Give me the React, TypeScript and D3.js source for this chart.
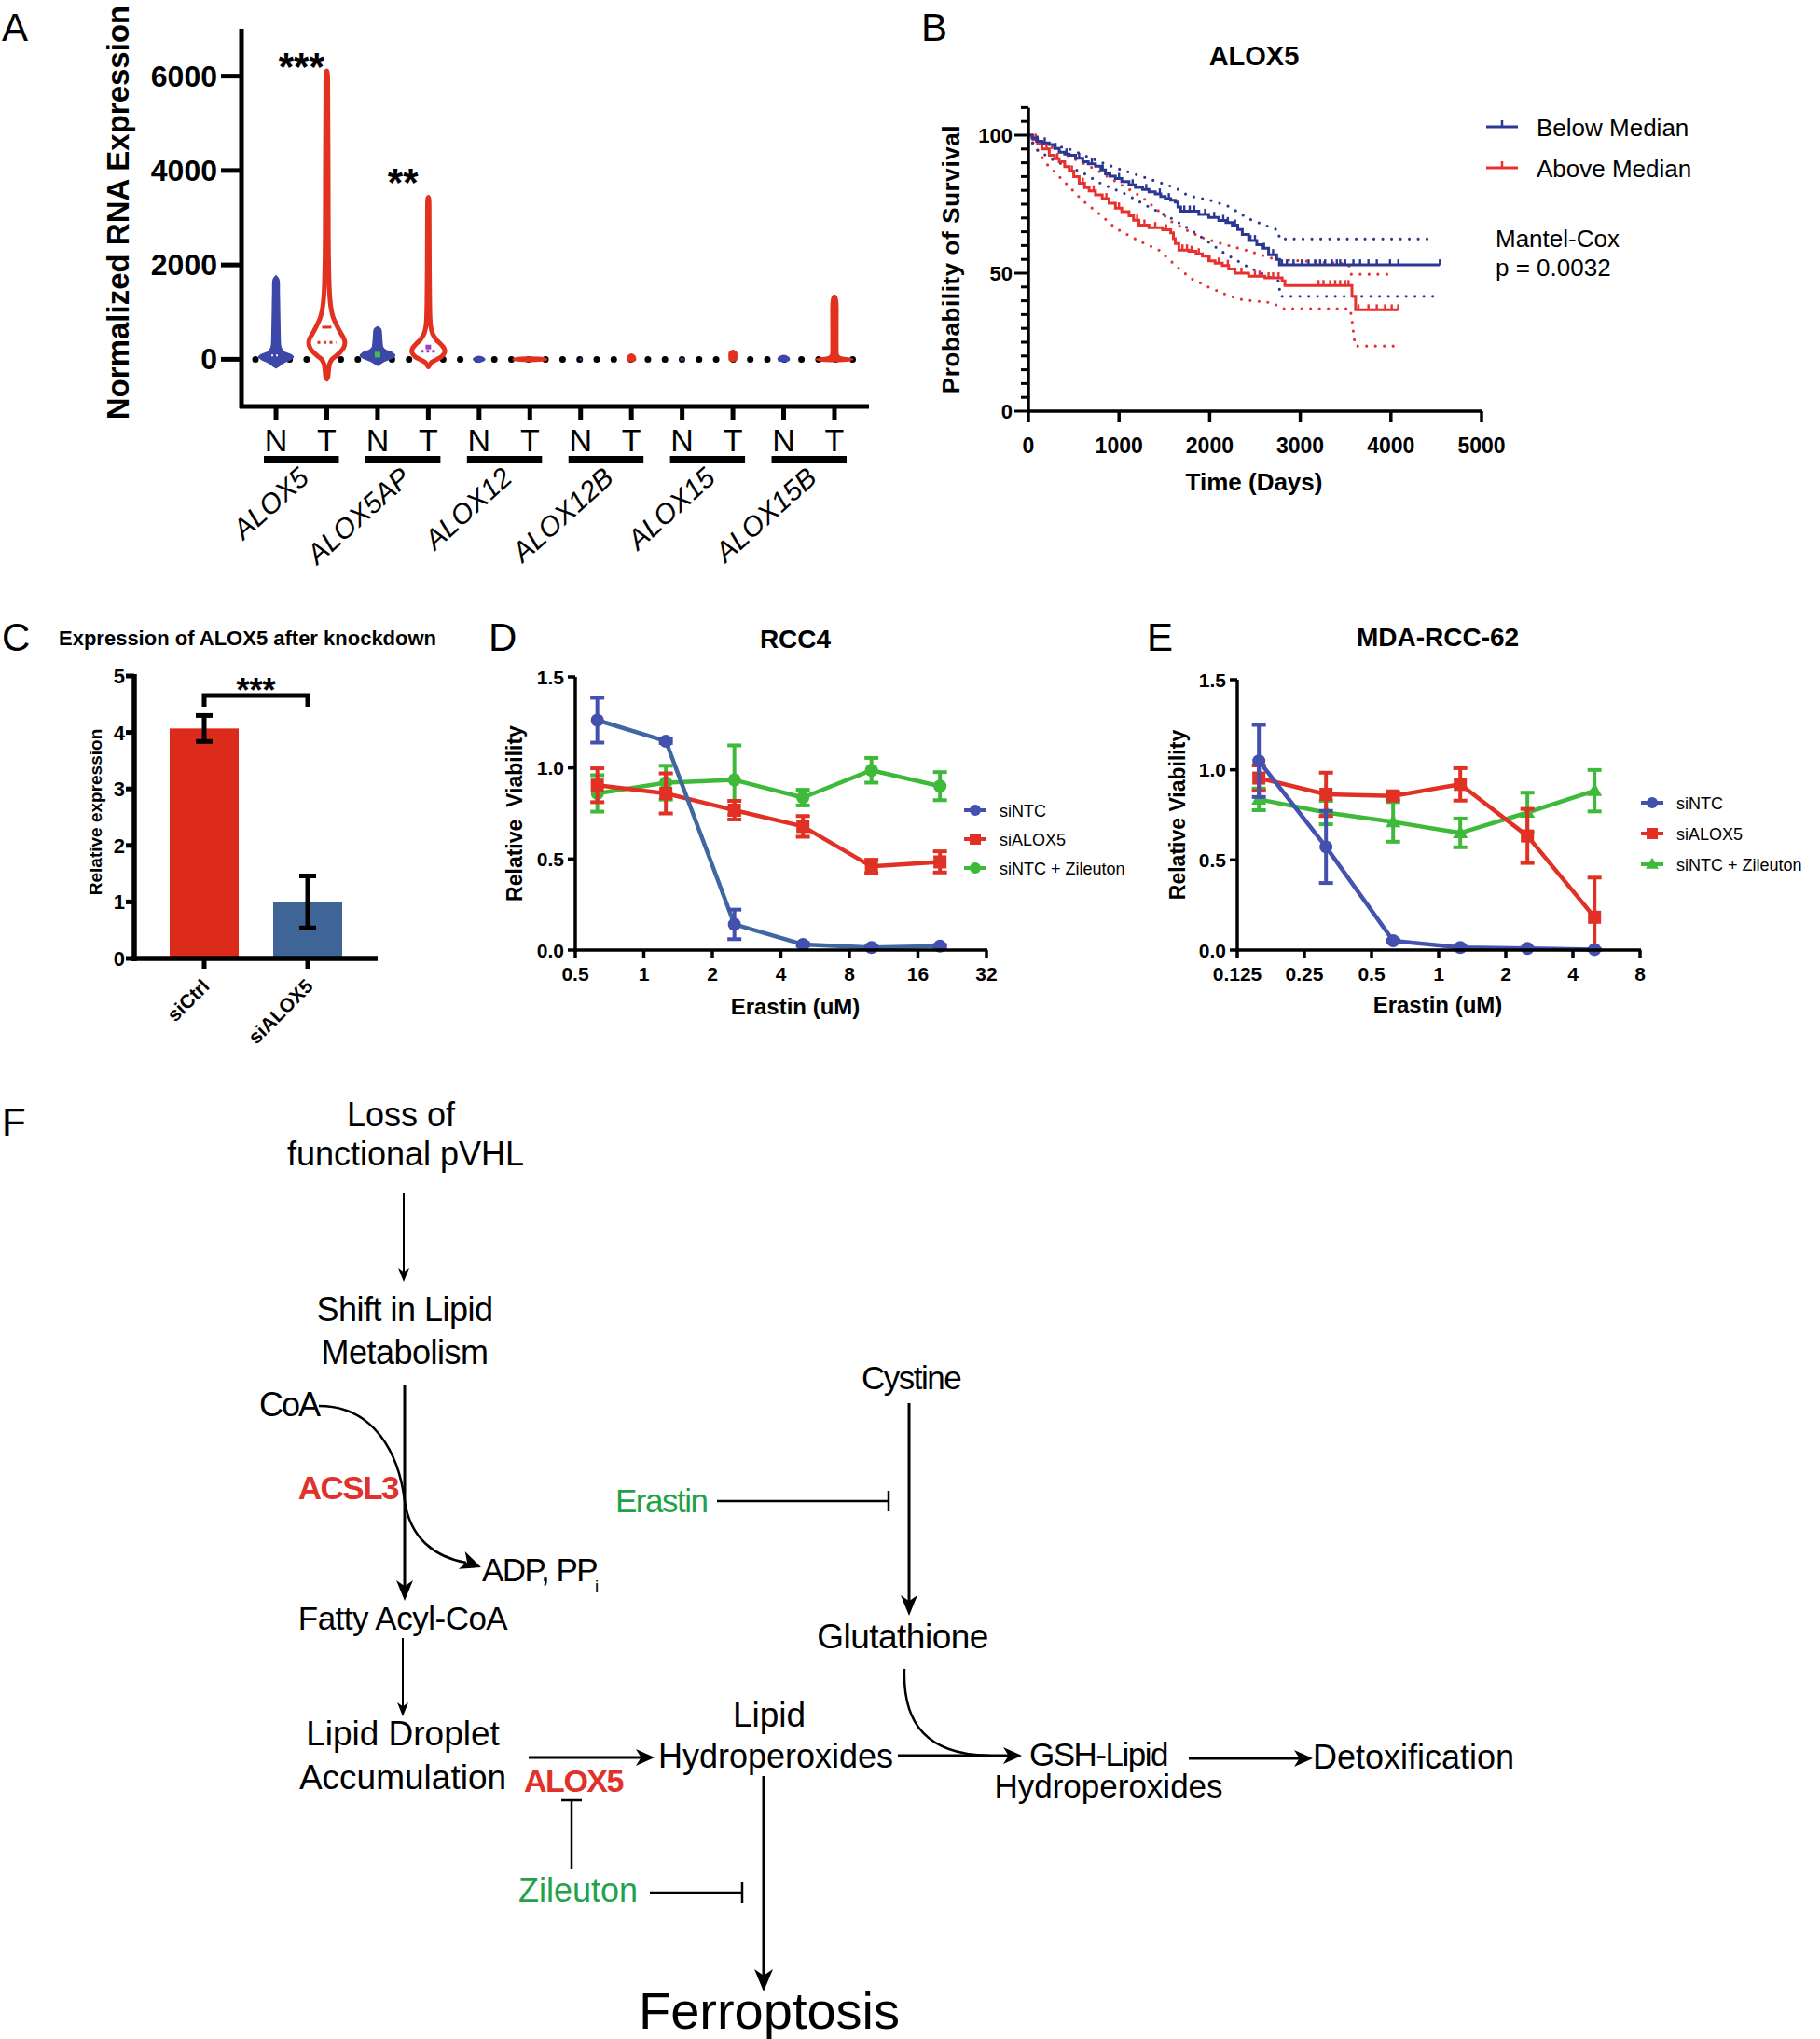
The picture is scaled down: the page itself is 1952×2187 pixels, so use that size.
import React from "react";
import * as d3 from "d3";

const FONT = "'Liberation Sans', Arial, Helvetica, sans-serif";
const RED = "#e2311f";
const BLUE_N = "#3c48a8";
const FIG_RED = "#e0322a";
const FIG_GREEN = "#1fa34a";

// ================= Panel A data =================
const geneNames = ["ALOX5", "ALOX5AP", "ALOX12", "ALOX12B", "ALOX15", "ALOX15B"];
const sampleTypes = ["N", "T"];
const aYTicks = [0, 2000, 4000, 6000];
const aStars = ["***", "**", "", "", "", ""];

// violin profiles: [expression value, relative half-width]
const vAlox5N = [[-180, 0], [-150, 0.15], [-80, 0.4], [0, 0.85], [50, 1.0], [100, 0.85], [150, 0.5], [220, 0.32], [300, 0.26], [600, 0.23], [1000, 0.21], [1400, 0.19], [1700, 0.15], [1770, 0]];
const vAlox5T = [[-420, 0], [-380, 0.06], [-250, 0.1], [-100, 0.16], [0, 0.3], [60, 0.5], [150, 0.78], [250, 0.98], [356, 1.05], [450, 0.98], [550, 0.82], [700, 0.6], [900, 0.36], [1100, 0.24], [1400, 0.16], [2000, 0.11], [2600, 0.09], [4000, 0.08], [5500, 0.06], [6050, 0.04], [6110, 0]];
const vAlox5apN = [[-130, 0], [-100, 0.12], [-40, 0.4], [20, 0.8], [80, 1.0], [140, 0.85], [200, 0.45], [260, 0.3], [350, 0.26], [500, 0.23], [640, 0.18], [690, 0]];
const vAlox5apT = [[-160, 0], [-130, 0.06], [-60, 0.2], [0, 0.5], [60, 0.78], [150, 0.95], [230, 0.92], [320, 0.72], [420, 0.45], [550, 0.24], [700, 0.14], [900, 0.1], [1200, 0.08], [2000, 0.06], [3000, 0.05], [3400, 0.03], [3430, 0]];
const vAlox12N = [[-60, 0], [-30, 0.25], [0, 0.33], [30, 0.25], [60, 0]];
const vAlox12T = [[-45, 0], [-30, 0.8], [0, 0.97], [30, 0.8], [45, 0]];
const vAlox12bN = [[-12, 0], [0, 0.04], [12, 0]];
const vAlox12bT = [[-45, 0], [-20, 0.22], [30, 0.24], [80, 0.16], [110, 0]];
const vAlox15N = [[-20, 0], [0, 0.12], [20, 0]];
const vAlox15T = [[-40, 0], [-20, 0.2], [50, 0.22], [150, 0.2], [190, 0]];
const vAlox15bN = [[-45, 0], [-20, 0.3], [20, 0.32], [60, 0.2], [80, 0]];
const vAlox15bT = [[-45, 0], [-30, 0.8], [0, 1.05], [30, 0.7], [60, 0.32], [100, 0.22], [300, 0.2], [800, 0.2], [1200, 0.19], [1330, 0.12], [1360, 0]];
const violinProfiles = [vAlox5N, vAlox5T, vAlox5apN, vAlox5apT, vAlox12N, vAlox12T, vAlox12bN, vAlox12bT, vAlox15N, vAlox15T, vAlox15bN, vAlox15bT];
const violinHollow = [false, true, false, true, false, false, false, false, false, false, false, false];
const violinMedians = [80, 360, 100, 170, null, null, null, null, null, null, null, null];

// ================= Panel B data =================
const belowMedianSteps = [[0, 100], [40, 99], [90, 97.8], [150, 97.2], [230, 96.6], [290, 95.2], [340, 93.8], [400, 93.2], [450, 92.7], [520, 91.6], [600, 90.4], [660, 89.6], [740, 88.8], [800, 87.4], [850, 86], [900, 85.1], [960, 84.3], [1030, 83.2], [1110, 82], [1180, 81.1], [1260, 80.3], [1330, 79.5], [1400, 78.7], [1460, 77.8], [1510, 77], [1570, 76.4], [1620, 75.8], [1650, 74], [1680, 72.5], [1880, 71.3], [1990, 70.2], [2100, 69.1], [2180, 68.3], [2250, 67.4], [2310, 65.8], [2360, 64], [2430, 61.8], [2520, 60.3], [2580, 59], [2650, 56.7], [2740, 55], [2770, 53], [4540, 53]];
const aboveMedianSteps = [[0, 100], [50, 98.5], [100, 97], [150, 95], [230, 92.7], [290, 91.5], [340, 90.4], [400, 88.6], [450, 87], [500, 85], [560, 82.6], [620, 81], [670, 79.8], [740, 78.4], [815, 77], [890, 75.3], [960, 73.6], [1030, 72.3], [1110, 70.8], [1160, 69.2], [1220, 67.4], [1330, 66.5], [1480, 65.7], [1570, 64.6], [1600, 62.5], [1620, 60.7], [1660, 58.4], [1770, 57.9], [1850, 57], [1920, 56.2], [1990, 54.5], [2060, 53.6], [2140, 52.8], [2210, 51.5], [2280, 50], [2430, 48.9], [2610, 48.3], [2800, 47.2], [2830, 45.5], [3560, 45.5], [3570, 41.6], [3610, 36.7], [4080, 36.7]];
const belowCensorDays = [100, 180, 300, 420, 560, 700, 820, 1000, 1150, 1300, 1450, 1550, 1720, 1780, 1830, 1950, 2050, 2150, 2200, 2280, 2450, 2500, 2600, 2700, 2797, 2852, 2925, 3017, 3091, 3164, 3219, 3274, 3348, 3403, 3440, 3495, 3586, 3660, 3752, 3844, 3990, 4082, 4540];
const aboveCensorDays = [80, 200, 320, 480, 600, 720, 860, 1000, 1200, 1280, 1400, 1520, 1700, 1750, 1800, 1880, 2000, 2100, 2200, 2350, 2500, 2550, 2650, 2700, 2760, 3201, 3256, 3330, 3385, 3440, 3495, 3532, 3642, 3752, 3844, 3935, 4009, 4080];
const belowUpperCI = [[0, 100], [200, 97], [450, 95], [700, 91.5], [960, 88.2], [1300, 84.5], [1623, 80.9], [1769, 78], [2000, 76.5], [2210, 74.2], [2430, 69.7], [2600, 67.5], [2760, 65.5], [2770, 62.4], [4470, 62.4]];
const belowLowerCI = [[0, 100], [80, 95], [300, 90.5], [595, 86.5], [800, 82.5], [1072, 78.7], [1300, 74.5], [1586, 69.7], [1750, 66.5], [1916, 62.9], [2150, 57.5], [2394, 52.8], [2600, 49.5], [2760, 47.2], [2780, 41.6], [4500, 41.6]];
const aboveUpperCI = [[0, 100], [228, 96], [500, 91.5], [741, 87.6], [1000, 82.5], [1256, 77.5], [1586, 68.5], [1750, 65.5], [1916, 62.9], [2150, 60.5], [2394, 58.4], [2724, 55], [3000, 54.5], [3532, 53.4], [3560, 49.6], [4045, 49.6]];
const aboveLowerCI = [[0, 100], [191, 89.9], [400, 83], [595, 76.4], [800, 71], [962, 66.3], [1200, 62], [1439, 58.4], [1660, 51.7], [1800, 48], [1990, 44.9], [2200, 42], [2357, 40.4], [2687, 39.3], [2816, 37.1], [3550, 37.1], [3570, 33], [3605, 23.6], [4045, 23.6]];
const bXTicks = [0, 1000, 2000, 3000, 4000, 5000];
const bYTicks = [0, 50, 100];
const bLegend = ["Below Median", "Above Median"];

// ================= Panel C data =================
const cCategories = ["siCtrl", "siALOX5"];
const cValues = [4.07, 1.0];
const cErrors = [0.23, 0.46];
const cYTicks = [0, 1, 2, 3, 4, 5];

// ================= Panel D data =================
const dDoses = [0.625, 1.25, 2.5, 5, 10, 20];
const dSiNTC = [1.262, 1.147, 0.141, 0.031, 0.014, 0.022];
const dSiNTCErr = [0.123, 0.01, 0.081, 0.008, 0.005, 0.006];
const dSiALOX5 = [0.905, 0.86, 0.768, 0.679, 0.459, 0.484];
const dSiALOX5Err = [0.093, 0.11, 0.051, 0.057, 0.037, 0.058];
const dZileuton = [0.86, 0.919, 0.934, 0.837, 0.987, 0.9];
const dZileutonErr = [0.1, 0.093, 0.19, 0.043, 0.068, 0.077];
const dXTicks = [0.5, 1, 2, 4, 8, 16, 32];

// ================= Panel E data =================
const eDoses = [0.15625, 0.3125, 0.625, 1.25, 2.5, 5];
const eSiNTC = [1.049, 0.572, 0.052, 0.014, 0.009, 0.003];
const eSiNTCErr = [0.2, 0.2, 0.005, 0.005, 0.003, 0.003];
const eSiALOX5 = [0.954, 0.864, 0.855, 0.919, 0.633, 0.182];
const eSiALOX5Err = [0.07, 0.12, 0.02, 0.09, 0.15, 0.22];
const eZileuton = [0.836, 0.763, 0.711, 0.65, 0.763, 0.884];
const eZileutonErr = [0.06, 0.065, 0.11, 0.08, 0.11, 0.115];
const eXTicks = [0.125, 0.25, 0.5, 1, 2, 4, 8];
const viabilityYTicks = [0, 0.5, 1.0, 1.5];
const doseLegend = ["siNTC", "siALOX5", "siNTC + Zileuton"];

// ================= Panel A =================
function PanelA() {
  const keys = geneNames.flatMap((g) => sampleTypes.map((t) => g + "_" + t));
  const x = d3.scalePoint().domain(keys).range([259, 932]).padding(0.68);
  const y = d3.scaleLinear().domain([-1000, 7000]).range([436, 31]);
  const w = d3.scaleLinear().domain([0, 1]).range([0, 18.5]);
  const y0 = y(0);
  return (
    <g>
      <text x={2} y={44} fontSize={42}>A</text>
      <line x1={274} x2={921} y1={y0} y2={y0} stroke="#000" strokeWidth={7} strokeDasharray="0 18.3" strokeLinecap="round" />
      {keys.map((k, i) => {
        const cx = x(k);
        const prof = violinProfiles[i];
        const col = i % 2 === 0 ? (i === 8 ? "#5a2a6a" : BLUE_N) : RED;
        const area = d3.area().y((d) => y(d[0])).x0((d) => cx - w(d[1])).x1((d) => cx + w(d[1])).curve(d3.curveCatmullRom);
        const hollow = violinHollow[i];
        const med = violinMedians[i];
        return (
          <g key={k}>
            <path d={area(prof)} fill={hollow ? "#fff" : col} stroke={col} strokeWidth={hollow ? 5 : 1.5} strokeLinejoin="round" />
            {med != null && i === 1 && (
              <g>
                <line x1={cx - 10} x2={cx + 10} y1={y(med)} y2={y(med)} stroke={RED} strokeWidth={3} strokeDasharray="3 3.5" />
                <line x1={cx - 5} x2={cx + 5} y1={y(680)} y2={y(680)} stroke={RED} strokeWidth={3} />
              </g>
            )}
            {med != null && i === 0 && (
              <line x1={cx - 5} x2={cx + 5} y1={y(med)} y2={y(med)} stroke="#fff" strokeWidth={2} strokeDasharray="2 3" />
            )}
            {med != null && i === 2 && <rect x={cx - 3} y={y(med) - 3} width={6} height={6} fill="#3fbf4a" />}
            {med != null && i === 3 && (
              <g>
                <line x1={cx - 8} x2={cx + 8} y1={y(med)} y2={y(med)} stroke="#a040c0" strokeWidth={3} strokeDasharray="3 3" />
                <rect x={cx - 3} y={y(250) - 3} width={6} height={5} fill="#a040c0" />
              </g>
            )}
          </g>
        );
      })}
      <line x1={259} x2={259} y1={31} y2={438} stroke="#000" strokeWidth={5} />
      <line x1={257} x2={932} y1={436} y2={436} stroke="#000" strokeWidth={5} />
      {aYTicks.map((t) => (
        <g key={t}>
          <line x1={237} x2={259} y1={y(t)} y2={y(t)} stroke="#000" strokeWidth={5} />
          <text x={233} y={y(t) + 11} fontSize={32} fontWeight="bold" textAnchor="end">{t}</text>
        </g>
      ))}
      {keys.map((k, i) => (
        <g key={k}>
          <line x1={x(k)} x2={x(k)} y1={436} y2={451} stroke="#000" strokeWidth={5} />
          <text x={x(k)} y={484} fontSize={34} textAnchor="middle">{sampleTypes[i % 2]}</text>
        </g>
      ))}
      {geneNames.map((g, gi) => {
        const xn = x(g + "_N");
        const xt = x(g + "_T");
        const c = (xn + xt) / 2;
        return (
          <g key={g}>
            <rect x={xn - 13} y={489} width={xt - xn + 26} height={8} fill="#000" />
            <text transform={`translate(${c + 10},515) rotate(-42)`} fontSize={30} fontStyle="italic" textAnchor="end">{g}</text>
            {aStars[gi] && (
              <text x={c} y={gi === 0 ? 86 : 210} fontSize={42} fontWeight="bold" textAnchor="middle">{aStars[gi]}</text>
            )}
          </g>
        );
      })}
      <text transform="translate(138,228) rotate(-90)" fontSize={33} fontWeight="bold" textAnchor="middle">Normalized RNA Expression</text>
    </g>
  );
}

// ================= Panel B =================
function PanelB() {
  const x = d3.scaleLinear().domain([0, 5000]).range([1103, 1589]);
  const y = d3.scaleLinear().domain([0, 100]).range([441, 145]);
  const step = d3.line().x((d) => x(d[0])).y((d) => y(d[1])).curve(d3.curveStepAfter);
  const lin = d3.line().x((d) => x(d[0])).y((d) => y(d[1]));
  const bis = d3.bisector((d) => d[0]).right;
  const survAt = (steps, t) => steps[Math.max(0, bis(steps, t) - 1)][1];
  const BLUE = "#2a3893";
  const REDB = "#e8312f";
  const minor = d3.range(0, 111, 5);
  return (
    <g>
      <text x={988} y={44} fontSize={42}>B</text>
      <text x={1345} y={70} fontSize={29} fontWeight="bold" textAnchor="middle">ALOX5</text>
      {[aboveUpperCI, aboveLowerCI].map((c, i) => (
        <path key={"r" + i} d={lin(c)} fill="none" stroke={REDB} strokeWidth={3.2} strokeDasharray="0 9.5" strokeLinecap="round" />
      ))}
      {[belowUpperCI, belowLowerCI].map((c, i) => (
        <path key={"b" + i} d={lin(c)} fill="none" stroke={BLUE} strokeWidth={3.2} strokeDasharray="0 9.5" strokeLinecap="round" />
      ))}
      <path d={step(aboveMedianSteps)} fill="none" stroke={REDB} strokeWidth={3} />
      {aboveCensorDays.map((t, i) => {
        const s = survAt(aboveMedianSteps, t);
        return <line key={i} x1={x(t)} x2={x(t)} y1={y(s)} y2={y(s) - 6} stroke={REDB} strokeWidth={2.4} />;
      })}
      <path d={step(belowMedianSteps)} fill="none" stroke={BLUE} strokeWidth={3} />
      {belowCensorDays.map((t, i) => {
        const s = survAt(belowMedianSteps, t);
        return <line key={i} x1={x(t)} x2={x(t)} y1={y(s)} y2={y(s) - 6} stroke={BLUE} strokeWidth={2.4} />;
      })}
      <line x1={1103} x2={1103} y1={y(110)} y2={443} stroke="#000" strokeWidth={3.5} />
      <line x1={1101} x2={1589} y1={441} y2={441} stroke="#000" strokeWidth={3.5} />
      {minor.map((t) => (
        <line key={t} x1={bYTicks.includes(t) ? 1088 : 1095} x2={1103} y1={y(t)} y2={y(t)} stroke="#000" strokeWidth={3} />
      ))}
      {bYTicks.map((t) => (
        <text key={t} x={1086} y={y(t) + 8} fontSize={22} fontWeight="bold" textAnchor="end">{t}</text>
      ))}
      {bXTicks.map((t) => (
        <g key={t}>
          <line x1={x(t)} x2={x(t)} y1={441} y2={453} stroke="#000" strokeWidth={3.5} />
          <text x={x(t)} y={486} fontSize={23} fontWeight="bold" textAnchor="middle">{t}</text>
        </g>
      ))}
      <text x={1345} y={526} fontSize={26} fontWeight="bold" textAnchor="middle">Time (Days)</text>
      <text transform="translate(1029,278) rotate(-90)" fontSize={26} fontWeight="bold" textAnchor="middle" letterSpacing={0.6}>Probability of Survival</text>
      {bLegend.map((l, i) => {
        const col = i === 0 ? BLUE : REDB;
        const ly = 136 + i * 44;
        return (
          <g key={l}>
            <line x1={1594} x2={1628} y1={ly} y2={ly} stroke={col} strokeWidth={3} />
            <line x1={1611} x2={1611} y1={ly} y2={ly - 7} stroke={col} strokeWidth={2.5} />
            <text x={1648} y={ly + 10} fontSize={26}>{l}</text>
          </g>
        );
      })}
      <text x={1604} y={265} fontSize={26}>Mantel-Cox</text>
      <text x={1604} y={296} fontSize={26}>p = 0.0032</text>
    </g>
  );
}

// ================= Panel C =================
function PanelC() {
  const x = d3.scaleBand().domain(cCategories).range([144, 405]).paddingInner(0.333).paddingOuter(0.342);
  const y = d3.scaleLinear().domain([0, 5]).range([1028, 725]);
  const colors = ["#dc2b1b", "#3e6596"];
  const cx = cCategories.map((c) => x(c) + x.bandwidth() / 2);
  return (
    <g>
      <text x={2} y={698} fontSize={42}>C</text>
      <text x={63} y={692} fontSize={22} fontWeight="bold">Expression of ALOX5 after knockdown</text>
      {cCategories.map((c, i) => (
        <g key={c}>
          <rect x={x(c)} y={y(cValues[i])} width={x.bandwidth()} height={y(0) - y(cValues[i])} fill={colors[i]} />
          <line x1={cx[i]} x2={cx[i]} y1={y(cValues[i] + cErrors[i])} y2={y(cValues[i] - cErrors[i])} stroke="#000" strokeWidth={5} />
          <line x1={cx[i] - 9} x2={cx[i] + 9} y1={y(cValues[i] + cErrors[i])} y2={y(cValues[i] + cErrors[i])} stroke="#000" strokeWidth={5} />
          <line x1={cx[i] - 9} x2={cx[i] + 9} y1={y(cValues[i] - cErrors[i])} y2={y(cValues[i] - cErrors[i])} stroke="#000" strokeWidth={5} />
          <line x1={cx[i]} x2={cx[i]} y1={1028} y2={1039} stroke="#000" strokeWidth={5} />
          <text transform={`translate(${cx[i] + 7},${1059}) rotate(-45)`} fontSize={21} fontWeight="bold" textAnchor="end">{c}</text>
        </g>
      ))}
      <path d={`M${cx[0]},758 V746 H${cx[1]} V758`} fill="none" stroke="#000" strokeWidth={5} />
      <text x={(cx[0] + cx[1]) / 2} y={753} fontSize={36} fontWeight="bold" textAnchor="middle">***</text>
      <line x1={144} x2={144} y1={723} y2={1031} stroke="#000" strokeWidth={5.5} />
      <line x1={141} x2={405} y1={1028} y2={1028} stroke="#000" strokeWidth={5.5} />
      {cYTicks.map((t) => (
        <g key={t}>
          <line x1={135} x2={144} y1={y(t)} y2={y(t)} stroke="#000" strokeWidth={5} />
          <text x={134} y={y(t) + 8} fontSize={22} fontWeight="bold" textAnchor="end">{t}</text>
        </g>
      ))}
      <text transform="translate(109,871) rotate(-90)" fontSize={19} fontWeight="bold" textAnchor="middle">Relative expression</text>
    </g>
  );
}

// ================= Panels D & E =================
function Marker({ shape, x, y, s, color }) {
  if (shape === "square") return <rect x={x - s} y={y - s} width={2 * s} height={2 * s} fill={color} />;
  if (shape === "triangle")
    return <path d={`M${x},${y - s * 1.2} L${x + s * 1.15},${y + s * 0.8} L${x - s * 1.15},${y + s * 0.8}Z`} fill={color} />;
  return <circle cx={x} cy={y} r={s} fill={color} />;
}

function DosePanel(p) {
  const x = d3.scaleLog().base(2).domain(p.xDomain).range(p.xRange);
  const y = d3.scaleLinear().domain([0, 1.5]).range(p.yRange);
  const line = d3.line().x((d) => x(d[0])).y((d) => y(d[1]));
  const [x0, x1] = p.xRange;
  const yb = p.yRange[0];
  return (
    <g>
      <text x={p.letterX} y={698} fontSize={42}>{p.letter}</text>
      <text x={p.titleX} y={p.titleY} fontSize={28} fontWeight="bold" textAnchor="middle">{p.title}</text>
      {p.series.map((s, si) => {
        const pts = p.doses.map((d, i) => [d, s.values[i]]);
        return (
          <g key={si}>
            <path d={line(pts)} fill="none" stroke={s.lineColor} strokeWidth={4.5} strokeLinejoin="round" />
            {pts.map((pt, i) => {
              const cxp = x(pt[0]);
              const top = y(pt[1] + s.errors[i]);
              const bot = y(Math.max(0, pt[1] - s.errors[i]));
              return (
                <g key={i}>
                  <line x1={cxp} x2={cxp} y1={top} y2={bot} stroke={s.color} strokeWidth={4} />
                  <line x1={cxp - 7.5} x2={cxp + 7.5} y1={top} y2={top} stroke={s.color} strokeWidth={4} />
                  <line x1={cxp - 7.5} x2={cxp + 7.5} y1={bot} y2={bot} stroke={s.color} strokeWidth={4} />
                  <Marker shape={s.shape} x={cxp} y={y(pt[1])} s={7} color={s.color} />
                </g>
              );
            })}
          </g>
        );
      })}
      <line x1={x0} x2={x0} y1={p.yRange[1]} y2={yb + 2} stroke="#000" strokeWidth={3.5} />
      <line x1={x0 - 2} x2={x1 + 1} y1={yb} y2={yb} stroke="#000" strokeWidth={3.5} />
      {viabilityYTicks.map((t) => (
        <g key={t}>
          <line x1={x0 - 8} x2={x0} y1={y(t)} y2={y(t)} stroke="#000" strokeWidth={3.5} />
          <text x={x0 - 12} y={y(t) + 7.5} fontSize={21} fontWeight="bold" textAnchor="end">{d3.format(".1f")(t)}</text>
        </g>
      ))}
      {p.xTicks.map((t) => (
        <g key={t}>
          <line x1={x(t)} x2={x(t)} y1={yb} y2={yb + 8} stroke="#000" strokeWidth={3.5} />
          <text x={x(t)} y={yb + 33} fontSize={21} fontWeight="bold" textAnchor="middle">{String(t)}</text>
        </g>
      ))}
      <text x={p.titleX} y={p.xLabelY} fontSize={24} fontWeight="bold" textAnchor="middle">Erastin (uM)</text>
      <text transform={`translate(${p.yLabelX},${(p.yRange[0] + p.yRange[1]) / 2}) rotate(-90)`} fontSize={23} fontWeight="bold" textAnchor="middle" style={{ whiteSpace: "pre" }}>{p.yLabel}</text>
      {p.series.map((s, si) => {
        const ly = p.legendY[s.legendIndex];
        return (
          <g key={"l" + si}>
            <line x1={p.legendX} x2={p.legendX + 24} y1={ly} y2={ly} stroke={s.color} strokeWidth={4} />
            <Marker shape={s.shape} x={p.legendX + 12} y={ly} s={6} color={s.color} />
            <text x={p.legendX + 38} y={ly + 6.5} fontSize={18}>{doseLegend[s.legendIndex]}</text>
          </g>
        );
      })}
    </g>
  );
}

// ================= Panel F =================
function Arrow({ x1, y1, x2, y2, sw = 3, L = 20, W = 8 }) {
  const a = Math.atan2(y2 - y1, x2 - x1);
  const bx = x2 - Math.cos(a) * L * 0.7;
  const by = y2 - Math.sin(a) * L * 0.7;
  const deg = (a * 180) / Math.PI;
  return (
    <g>
      <line x1={x1} y1={y1} x2={bx} y2={by} stroke="#000" strokeWidth={sw} />
      <path d={`M0,0 L${-L},${-W} L${-L * 0.72},0 L${-L},${W} Z`} fill="#000" transform={`translate(${x2},${y2}) rotate(${deg})`} />
    </g>
  );
}

function Inhibit({ x1, y1, x2, y2, sw = 2.5, bar = 11 }) {
  const vertical = x1 === x2;
  return (
    <g stroke="#000" strokeWidth={sw}>
      <line x1={x1} y1={y1} x2={x2} y2={y2} />
      {vertical ? <line x1={x2 - bar} x2={x2 + bar} y1={y2} y2={y2} /> : <line x1={x2} x2={x2} y1={y2 - bar} y2={y2 + bar} />}
    </g>
  );
}

function PanelF() {
  const T = (x, y, s, opts = {}) => (
    <text x={x} y={y} fontSize={opts.fs || 36} textAnchor={opts.anchor || "middle"} fill={opts.fill || "#000"} fontWeight={opts.bold ? "bold" : "normal"} letterSpacing={opts.ls || 0}>{s}</text>
  );
  return (
    <g>
      <text x={2} y={1218} fontSize={42}>F</text>
      {T(430, 1208, "Loss of")}
      {T(435, 1250, "functional pVHL")}
      <Arrow x1={433} y1={1280} x2={433} y2={1375} sw={2} L={15} W={6} />
      {T(434, 1417, "Shift in Lipid", { ls: -0.5 })}
      {T(434, 1463, "Metabolism", { ls: -0.5 })}
      <Arrow x1={434} y1={1485} x2={434} y2={1717} sw={3} L={22} W={9} />
      {T(342, 1519, "CoA", { anchor: "end", ls: -2 })}
      <path d="M342,1508 C402,1508 428,1560 434,1610 C440,1650 466,1670 500,1676" fill="none" stroke="#000" strokeWidth={2.5} />
      <path d="M0,0 L-22,-10 L-16,0 L-22,10 Z" fill="#000" transform="translate(516,1681) rotate(20)" />
      {T(427, 1608, "ACSL3", { anchor: "end", bold: true, fill: FIG_RED, fs: 35, ls: -1.5 })}
      <text x={517} y={1696} fontSize={35} letterSpacing={-1.5}>ADP, PP</text>
      <text x={638} y={1708} fontSize={19}>i</text>
      {T(432, 1748, "Fatty Acyl-CoA", { fs: 35, ls: -0.5 })}
      <Arrow x1={432} y1={1757} x2={432} y2={1841} sw={2} L={15} W={6} />
      {T(432, 1872, "Lipid Droplet", { fs: 37 })}
      {T(432, 1919, "Accumulation", { fs: 37 })}
      <Arrow x1={567} y1={1885} x2={702} y2={1885} sw={3} L={20} W={9} />
      {T(615, 1922, "ALOX5", { bold: true, fill: FIG_RED, fs: 34, ls: -1.5 })}
      <Inhibit x1={613} y1={2005} x2={613} y2={1931} />
      {T(620, 2040, "Zileuton", { fill: FIG_GREEN })}
      <Inhibit x1={697} y1={2030} x2={796} y2={2030} />
      {T(825, 1852, "Lipid", { fs: 37 })}
      {T(832, 1896, "Hydroperoxides")}
      <Arrow x1={819} y1={1905} x2={819} y2={2136} sw={3} L={24} W={10} />
      {T(825, 2176, "Ferroptosis", { fs: 56 })}
      {T(977, 1490, "Cystine", { fs: 35, ls: -1.5 })}
      <Arrow x1={975} y1={1505} x2={975} y2={1733} sw={3} L={22} W={9} />
      <text x={660} y={1622} fontSize={35} fill={FIG_GREEN} letterSpacing={-1.5}>Erastin</text>
      <Inhibit x1={769} y1={1610} x2={953} y2={1610} />
      {T(968, 1768, "Glutathione", { fs: 37, ls: -0.5 })}
      <path d="M970,1790 C968,1850 995,1882 1062,1883" fill="none" stroke="#000" strokeWidth={2.5} />
      <Arrow x1={963} y1={1883} x2={1096} y2={1883} sw={3} L={20} W={9} />
      {T(1178, 1894, "GSH-Lipid", { fs: 35, ls: -1.5 })}
      {T(1189, 1928, "Hydroperoxides", { fs: 35 })}
      <Arrow x1={1275} y1={1886} x2={1408} y2={1886} sw={3} L={20} W={9} />
      {T(1408, 1897, "Detoxification", { anchor: "start" })}
    </g>
  );
}

export default function App() {
  const dSeries = [
    { values: dZileuton, errors: dZileutonErr, color: "#3fb93a", lineColor: "#3fb93a", shape: "circle", legendIndex: 2 },
    { values: dSiALOX5, errors: dSiALOX5Err, color: "#e03124", lineColor: "#e03124", shape: "square", legendIndex: 1 },
    { values: dSiNTC, errors: dSiNTCErr, color: "#4350ae", lineColor: "#3f67a0", shape: "circle", legendIndex: 0 },
  ];
  const eSeries = [
    { values: eZileuton, errors: eZileutonErr, color: "#3fb93a", lineColor: "#3fb93a", shape: "triangle", legendIndex: 2 },
    { values: eSiALOX5, errors: eSiALOX5Err, color: "#e03124", lineColor: "#e03124", shape: "square", legendIndex: 1 },
    { values: eSiNTC, errors: eSiNTCErr, color: "#4350ae", lineColor: "#4452b0", shape: "circle", legendIndex: 0 },
  ];
  const dLegendY = [869, 900, 931];
  const eLegendY = [861, 894, 927];
  return (
    <svg width={1952} height={2187} style={{ position: "absolute", left: 0, top: 0, background: "#fff" }} fontFamily={FONT}>
      <rect width={1952} height={2187} fill="#fff" />
      <PanelA />
      <PanelB />
      <PanelC />
      <DosePanel
        letter="D" letterX={524} title="RCC4" titleX={853} titleY={695}
        doses={dDoses} series={dSeries} xDomain={[0.5, 32]} xRange={[617, 1058]} yRange={[1019, 726]}
        xTicks={dXTicks} xLabelY={1088} yLabelX={560} yLabel={"Relative  Viability"}
        legendX={1034} legendY={dLegendY}
      />
      <DosePanel
        letter="E" letterX={1230} title="MDA-RCC-62" titleX={1542} titleY={693}
        doses={eDoses} series={eSeries} xDomain={[0.125, 8]} xRange={[1327, 1759]} yRange={[1019, 729]}
        xTicks={eXTicks} xLabelY={1086} yLabelX={1271} yLabel={"Relative Viability"}
        legendX={1760} legendY={eLegendY}
      />
      <PanelF />
    </svg>
  );
}
